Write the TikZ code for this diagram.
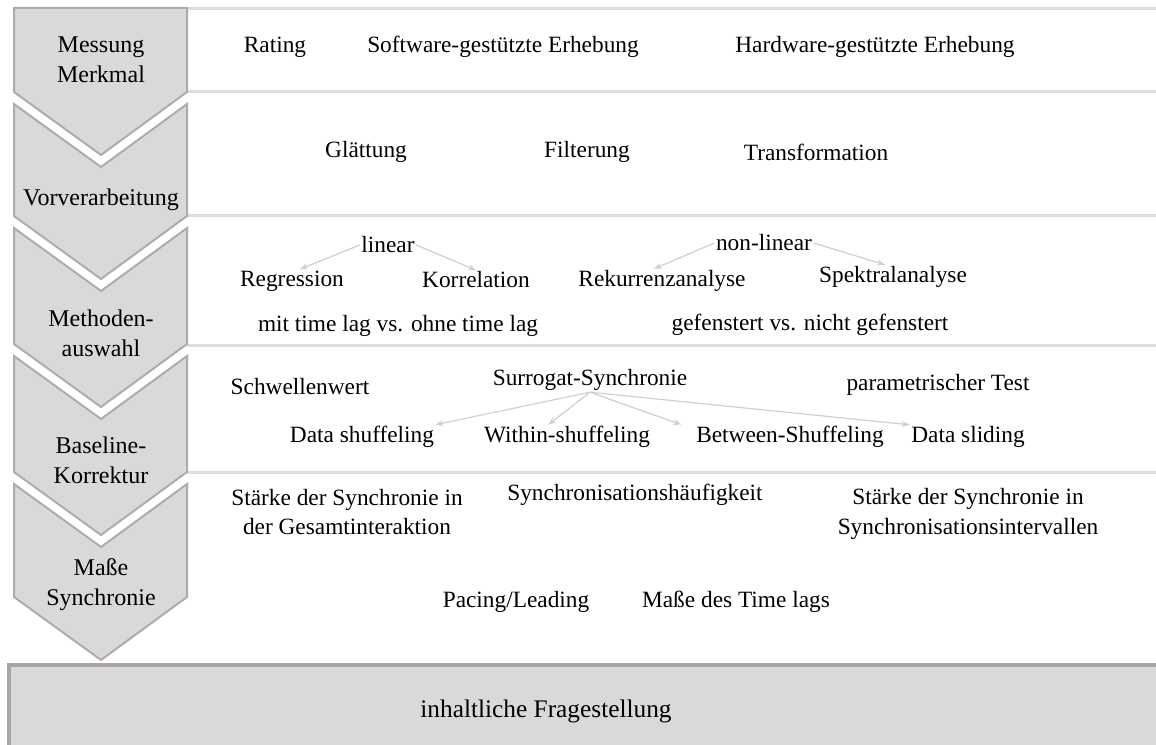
\documentclass[tikz,border=0pt]{standalone}
\usepackage{fontspec}
\setmainfont{Liberation Serif}
\usetikzlibrary{arrows.meta}
\definecolor{chevfill}{HTML}{D9D9D9}
\definecolor{chevedge}{HTML}{B0ABA9}
\definecolor{boxedge}{HTML}{ABA6A4}
\definecolor{rowrule}{HTML}{DEDEDE}
\definecolor{arrowgray}{HTML}{CFCFCF}
\tikzset{
  chev/.style={fill=chevfill, draw=chevedge, line width=1.5pt, line join=miter},
  stage/.style={font=\fontsize{18}{22.5}\selectfont, align=center, inner sep=1pt},
  item/.style={font=\fontsize{17.5}{22}\selectfont, align=center, inner sep=1pt},
  rowline/.style={draw=rowrule, line width=2.25pt},
  arr/.style={draw=arrowgray, line width=0.9pt, -{Stealth[length=6pt,width=4.5pt]}}
}
\begin{document}
\begin{tikzpicture}[x=0.75pt,y=-0.75pt]
\useasboundingbox (0,0) rectangle (1156,745);
\clip (0,0) rectangle (1156,745);

% row separators of the right-hand panel
\foreach \yy in {9,92,216,345,472}
  \draw[rowline] (187,\yy) -- (1160,\yy);

% process chevrons
\draw[chev] (14,8) -- (187,8) -- (187,92) -- (101,155) -- (14,92) -- cycle;
\draw[chev] (14,104) -- (101,167) -- (187,104) -- (187,216) -- (101,279) -- (14,216) -- cycle;
\draw[chev] (14,228) -- (101,291) -- (187,228) -- (187,344) -- (101,407) -- (14,344) -- cycle;
\draw[chev] (14,356) -- (101,419) -- (187,356) -- (187,472) -- (101,535) -- (14,472) -- cycle;
\draw[chev] (14,484) -- (101,547) -- (187,484) -- (187,597) -- (101,660) -- (14,597) -- cycle;

% closing box
\draw[fill=chevfill, draw=boxedge, line width=3pt] (9,665) rectangle (1175,760);
\node[item, font=\fontsize{19}{22}\selectfont] (frage) at (546,711) {inhaltliche Fragestellung};

% stage labels
\node[stage] (s1) at (101,60)  {Messung\\Merkmal};
\node[stage] (s2) at (101,200) {Vorverarbeitung};
\node[stage] (s3) at (101,333) {Methoden-\\auswahl};
\node[stage] (s4) at (101,460) {Baseline-\\Korrektur};
\node[stage] (s5) at (101,585) {Maße\\Synchronie};

% row 1: measurement
\node[item] (rating) at (275,47) {Rating};
\node[item] (soft)   at (503,47) {Software-gestützte Erhebung};
\node[item] (hard)   at (875,47) {Hardware-gestützte Erhebung};

% row 2: preprocessing
\node[item] (glatt)  at (366,152) {Glättung};
\node[item] (filt)   at (587,152) {Filterung};
\node[item] (trans)  at (816,152) {Transformation};

% row 3: methods
\node[item] (lin)    at (388,245) {linear};
\node[item] (nonlin) at (764,243) {non-linear};
\node[item] (regr)   at (292,281) {Regression};
\node[item] (korr)   at (476,280) {Korrelation};
\node[item] (rekur)  at (662,281) {Rekurrenzanalyse};
\node[item] (spekt)  at (893,277) {Spektralanalyse};
\node[item] (lag)    at (398,326) {mit time lag vs. ohne time lag};
\node[item] (fenst)  at (810,325) {gefenstert vs. nicht gefenstert};
\draw[arr] (lin.west) -- ([xshift=6pt]regr.north);
\draw[arr] (lin.east) -- (korr.north);
\draw[arr] (nonlin.west) -- ([xshift=-6pt]rekur.north);
\draw[arr] (nonlin.east) -- ([xshift=-6pt]spekt.north);

% row 4: baseline correction
\node[item] (schw)   at (300,387) {Schwellenwert};
\node[item] (surr)   at (590,380) {Surrogat-Synchronie};
\node[item] (param)  at (938,385) {parametrischer Test};
\node[item] (dshuf)  at (362,437) {Data shuffeling};
\node[item] (within) at (567,437) {Within-shuffeling};
\node[item] (betw)   at (790,437) {Between-Shuffeling};
\node[item] (dslide) at (968,437) {Data sliding};
\draw[arr] (surr.south) -- (dshuf.north east);
\draw[arr] (surr.south) -- ([xshift=-14pt]within.north);
\draw[arr] (surr.south) -- ([xshift=-10pt]betw.north west);
\draw[arr] (surr.south) -- (dslide.north west);

% row 5: synchrony measures
\node[item] (gesamt) at (347,512) {Stärke der Synchronie in\\der Gesamtinteraktion};
\node[item] (haeuf)  at (635,495) {Synchronisationshäufigkeit};
\node[item] (interv) at (968,514) {Stärke der Synchronie in\\Synchronisationsintervallen};
\node[item] (pacing) at (516,602) {Pacing/Leading};
\node[item] (tlag)   at (736,602) {Maße des Time lags};
\end{tikzpicture}
\end{document}
